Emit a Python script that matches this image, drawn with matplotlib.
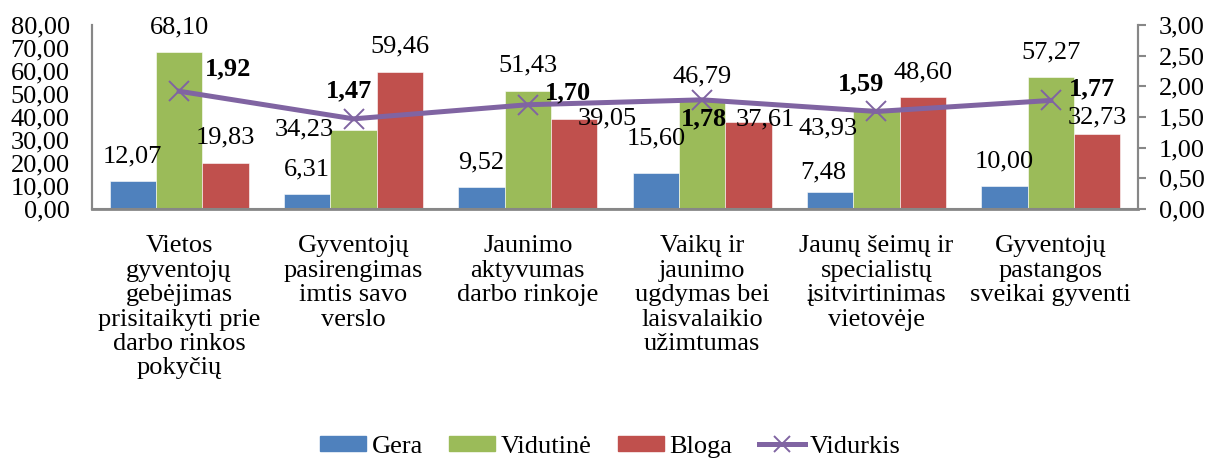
import numpy as np
import matplotlib
matplotlib.use('Agg')
import matplotlib.pyplot as plt
from matplotlib.lines import Line2D
from matplotlib.patches import Patch

categories = [
    'Vietos\ngyventojų\ngebėjimas\nprisitaikyti prie\ndarbo rinkos\npokyčių',
    'Gyventojų\npasirengimas\nimtis savo\nverslo',
    'Jaunimo\naktyvumas\ndarbo rinkoje',
    'Vaikų ir\njaunimo\nugdymas bei\nlaisvalaikio\nužimtumas',
    'Jaunų šeimų ir\nspecialistų\nįsitvirtinimas\nvietovėje',
    'Gyventojų\npastangos\nsveikai gyventi',
]
gera = [12.07, 6.31, 9.52, 15.60, 7.48, 10.00]
vidutine = [68.10, 34.23, 51.43, 46.79, 43.93, 57.27]
bloga = [19.83, 59.46, 39.05, 37.61, 48.60, 32.73]
vidurkis = [1.92, 1.47, 1.70, 1.78, 1.59, 1.77]

# label offsets in pixels (dx, dy) - copied from where the labels sit in the picture
off_gera = [(0, 25), (0, 25), (0, 25), (0, 35), (-7, 19), (0, 25)]
off_vid = [(0, 25), (-49, 1), (0, 25), (0, 25), (-48, -20), (0, 25)]
off_blo = [(0, 26), (0, 26), (33, 1), (17, 3), (0, 25), (0, 16)]
off_line = [(49, 22), (-5, 28), (40, 12), (2, -19), (-15, 28), (41, 12)]

c_blue, c_green, c_red, c_purple = '#4F81BD', '#9BBB59', '#C0504D', '#8064A2'
grey = '#878787'

plt.rcParams['font.family'] = ['Liberation Serif', 'DejaVu Serif']
fs = 19


def fmt(v):
    return f'{v:.2f}'.replace('.', ',')


fig, ax = plt.subplots(figsize=(12.21, 4.63), dpi=100)
fig.subplots_adjust(left=92 / 1221, right=1138 / 1221, top=1 - 25 / 463, bottom=1 - 209 / 463)
ax2 = ax.twinx()

x = np.arange(len(categories))
w = 0.266
series = [(gera, c_blue, off_gera, -w), (vidutine, c_green, off_vid, 0), (bloga, c_red, off_blo, w)]
for vals, col, offs, dx in series:
    ax.bar(x + dx, vals, w, color=col, edgecolor='white', linewidth=0.4)

ax2.plot(x, vidurkis, color=c_purple, lw=3.6, marker='x', ms=15, mew=1.4, zorder=3)

for vals, col, offs, dx in series:
    for xi, v, (ox, oy) in zip(x, vals, offs):
        ax2.annotate(fmt(v), xy=(xi + dx, v), xycoords=ax.transData, xytext=(ox, oy),
                     textcoords='offset pixels', ha='center', va='center', fontsize=fs, zorder=5)
for xi, v, (ox, oy) in zip(x, vidurkis, off_line):
    ax2.annotate(fmt(v), xy=(xi, v), xytext=(ox, oy), textcoords='offset pixels',
                 ha='center', va='center', fontsize=fs, fontweight='bold', zorder=5)

ax.set_xlim(-0.5, len(categories) - 0.5)
ax.set_ylim(0, 80)
ax.set_yticks(np.arange(0, 81, 10))
ax.set_yticklabels([fmt(t) for t in np.arange(0, 81, 10)])
ax2.set_ylim(0, 3)
ax2.set_yticks(np.arange(0, 3.01, 0.5))
ax2.set_yticklabels([fmt(t) for t in np.arange(0, 3.01, 0.5)])

ax.set_xticks(x)
ax.set_xticklabels(categories, fontsize=fs, linespacing=1.14)
ax.tick_params(axis='x', length=0, pad=19)
ax.tick_params(axis='y', length=0, pad=16, labelsize=fs)
ax2.tick_params(axis='y', length=6, width=1.5, color=grey, pad=9, labelsize=fs)

for a in (ax, ax2):
    a.spines['top'].set_visible(False)
    for s in ('left', 'right', 'bottom'):
        a.spines[s].set_color(grey)
        a.spines[s].set_linewidth(1.5)
ax.spines['bottom'].set_linewidth(2)

handles = [Patch(color=c_blue), Patch(color=c_green), Patch(color=c_red),
           Line2D([], [], color=c_purple, lw=3.6, marker='x', ms=11, mew=1.4)]
fig.legend(handles, ['Gera', 'Vidutinė', 'Bloga', 'Vidurkis'], loc='center',
           bbox_to_anchor=(0.5, 0.035), ncol=4, frameon=False, fontsize=fs,
           handlelength=1.75, handleheight=0.5, handletextpad=0.2, columnspacing=1.0)

plt.savefig('out.png', dpi=100)
